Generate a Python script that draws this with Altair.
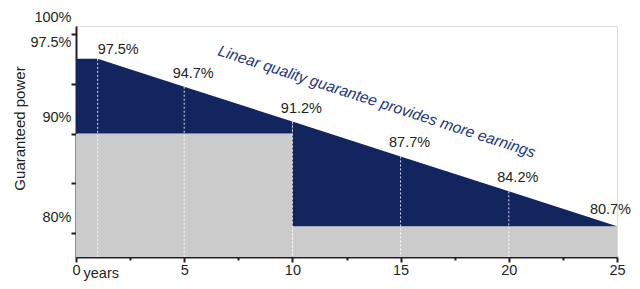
import altair as alt
import pandas as pd

# ---- data ----
years = [0, 1, 5, 10, 15, 20, 25]
linear_guarantee = [97.5, 97.5, 94.7, 91.2, 87.7, 84.2, 80.7]
step_start = [0, 10]
step_end = [10, 25]
step_value = [90, 80.7]
y_ticks = [100, 97.5, 95, 90, 85, 80]
x_ticks = [0, 2.5, 5, 7.5, 10, 12.5, 15, 17.5, 20, 22.5, 25]
annotation = "Linear quality guarantee provides more earnings"
annot_year = [13.9]
annot_value = [93.2]

Y_MIN, Y_MAX = 77.6, 100.8
NAVY = "#13255f"
GRAY = "#cacbca"
INK = "#231f20"
FONT = "Liberation Sans"


def lin_at(x):
    for (x0, y0), (x1, y1) in zip(zip(years, linear_guarantee), zip(years[1:], linear_guarantee[1:])):
        if x0 <= x <= x1:
            return y0 + (y1 - y0) * (x - x0) / (x1 - x0)
    return linear_guarantee[-1]


# gap between the two guarantees, one polygon per step segment
polys = []
for k, (s, e, v) in enumerate(zip(step_start, step_end, step_value)):
    for x in [x for x in years if s <= x <= e]:
        polys.append({"seg": k, "year": x, "top": lin_at(x), "bottom": v})
area_df = pd.DataFrame(polys)

step_df = pd.DataFrame({"start": step_start, "end": step_end, "value": step_value})
pts_df = pd.DataFrame({"year": years[1:], "value": linear_guarantee[1:]})
pts_df["label"] = pts_df["value"].map(lambda v: f"{v:.1f}%")
ann_df = pd.DataFrame({"year": annot_year, "value": annot_value, "text": [annotation]})

xscale = alt.Scale(domain=[0, 25], nice=False, zero=False)
yscale = alt.Scale(domain=[Y_MIN, Y_MAX], nice=False, zero=False)

x_axis = alt.Axis(
    values=x_ticks,
    labelExpr="datum.value % 5 == 0 ? datum.value : ''",
    tickSize={"condition": {"test": "datum.value % 5 != 0", "value": 3}, "value": 5},
    title="years",
    titleX=7, titleY=20, titleAlign="left", titleBaseline="alphabetic",
    titleFontWeight="normal", titleFontSize=14.5, titleFont=FONT, titleColor=INK,
    labelFontSize=14.5, labelFont=FONT, labelColor=INK, labelPadding=1,
    domainColor=INK, domainWidth=2, tickColor=INK, tickWidth=2, grid=False,
    labelFlush=False,
)
y_axis = alt.Axis(
    values=y_ticks,
    labelExpr="(datum.value == 95 || datum.value == 85) ? '' : datum.value + '%'",
    tickOpacity={"condition": {"test": "datum.value == 97.5", "value": 0}, "value": 1},
    tickSize=5, labelOffset=-16, labelPadding=0,
    title="Guaranteed power",
    titleX=-57, titleY=102, titleAlign="center", titleBaseline="middle", titleAngle=-90,
    titleFontWeight="normal", titleFontSize=15, titleFont=FONT, titleColor=INK,
    labelFontSize=14.5, labelFont=FONT, labelColor=INK,
    domainColor=INK, domainWidth=2, tickColor=INK, tickWidth=2, grid=False,
    labelFlush=False,
)

gray = alt.Chart(step_df).mark_rect(color=GRAY).encode(
    x=alt.X("start:Q", scale=xscale, axis=x_axis),
    x2="end:Q",
    y=alt.Y("value:Q", scale=yscale, axis=y_axis),
    y2=alt.datum(Y_MIN),
)

dark = alt.Chart(area_df).mark_area(color=NAVY, opacity=1, interpolate="linear").encode(
    x=alt.X("year:Q", scale=xscale),
    y=alt.Y("top:Q", scale=yscale, stack=None),
    y2=alt.Y2("bottom:Q"),
    detail="seg:N",
)

guides = alt.Chart(pts_df).transform_filter("datum.year < 25").mark_rule(
    color="white", strokeDash=[2, 2], strokeWidth=1, opacity=0.85
).encode(
    x=alt.X("year:Q", scale=xscale),
    y=alt.Y("value:Q", scale=yscale),
    y2=alt.datum(Y_MIN),
)

txt = dict(font=FONT, fontSize=14.5, color=INK, baseline="middle")
lab_first = alt.Chart(pts_df).transform_filter("datum.year == 1").mark_text(
    align="left", dx=0, dy=-9, **txt
).encode(x=alt.X("year:Q", scale=xscale), y=alt.Y("value:Q", scale=yscale), text="label:N")
lab_mid = alt.Chart(pts_df).transform_filter("datum.year > 1 && datum.year < 25").mark_text(
    align="center", dx=9, dy=-13, **txt
).encode(x=alt.X("year:Q", scale=xscale), y=alt.Y("value:Q", scale=yscale), text="label:N")
lab_last = alt.Chart(pts_df).transform_filter("datum.year == 25").mark_text(
    align="right", dx=14, dy=-16, **txt
).encode(x=alt.X("year:Q", scale=xscale), y=alt.Y("value:Q", scale=yscale), text="label:N")

ann = alt.Chart(ann_df).mark_text(
    font=FONT, fontSize=15.5, fontStyle="italic", color="#22387c", angle=18,
    align="center", baseline="middle"
).encode(x=alt.X("year:Q", scale=xscale), y=alt.Y("value:Q", scale=yscale), text="text:N")

chart = alt.layer(gray, dark, guides, lab_first, lab_mid, lab_last, ann).properties(
    width=541, height=231,
    autosize=alt.AutoSizeParams(type="none"),
    padding={"left": 68, "top": 18, "right": 15, "bottom": 24},
).configure_view(stroke=None).configure(background="white")

chart.save("out.html", embed_options={"renderer": "svg", "actions": False})
